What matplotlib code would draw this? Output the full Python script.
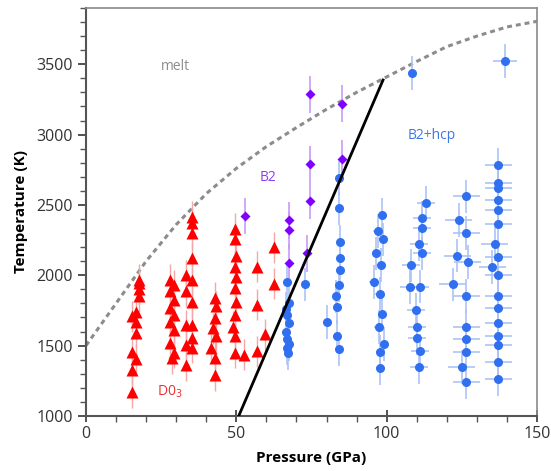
import matplotlib.pyplot as plt
from matplotlib.ticker import MultipleLocator

# D0_3 (red triangles)
red_P = [15.3, 15.3, 15.3, 15.3, 16.8, 16.8, 16.8, 16.8, 17.8, 17.8, 17.8, 17.8,
         28.0, 29.3, 28.0, 29.3, 28.0, 29.3, 28.0, 29.3, 28.0, 29.3, 28.5,
         33.2, 33.2, 33.2, 33.2, 33.2,
         35.4, 35.4, 35.4, 35.4, 35.4, 35.4, 35.4, 35.4, 35.4,
         42.8, 43.4, 43.0, 42.4, 43.4, 41.5, 43.0, 42.8,
         49.5, 49.5, 49.8, 49.5, 49.8, 49.5, 49.8, 49.5, 49.0, 49.5, 49.5,
         52.5, 57.0, 57.0, 57.0, 59.5, 62.5, 62.5]
red_T = [1170, 1330, 1455, 1710, 1405, 1590, 1665, 1740, 1850, 1900, 1945, 1970,
         1970, 1930, 1885, 1825, 1765, 1720, 1670, 1610, 1520, 1450, 1410,
         2000, 1885, 1645, 1505, 1360,
         2415, 2370, 2300, 2125, 1970, 1810, 1650, 1555, 1485,
         1840, 1780, 1695, 1625, 1565, 1485, 1415, 1290,
         2330, 2255, 2135, 2060, 1985, 1910, 1810, 1720, 1635, 1570, 1450,
         1435, 2060, 1790, 1460, 1580, 2200, 1940]

# B2 (purple diamonds)
pur_P = [53.0, 67.5, 67.5, 67.5, 73.5, 74.5, 74.5, 74.5, 85.0, 85.0]
pur_T = [2420, 2390, 2320, 2090, 2155, 2530, 2790, 3285, 2830, 3220]

# B2+hcp (blue circles)
blue_P = [67.0, 67.5, 66.5, 67.0, 67.5, 66.5, 67.0, 67.5, 66.8, 67.2,
          73.0,
          84.0, 84.0, 84.5, 84.5, 84.5, 84.0, 83.0, 83.5, 80.0, 83.5, 84.0,
          98.5, 97.0, 98.8, 96.6, 98.0, 95.7, 97.7, 98.6, 97.3, 99.0, 97.9, 97.9,
          113.0, 111.9, 111.9, 110.6, 111.7, 108.2, 107.6, 111.2, 109.6, 110.2, 110.2, 111.2, 110.7,
          126.5, 124.0, 126.5, 123.5, 127.0, 122.0, 126.5, 126.5, 126.5, 126.5, 125.0, 126.5,
          137.1, 137.1, 137.1, 137.1, 137.1, 137.1, 135.9, 137.1, 135.1, 137.1, 137.1, 137.1,
          137.1, 137.1, 137.1, 137.1, 137.1,
          108.4, 139.5]
blue_T = [1950, 1805, 1760, 1720, 1660, 1600, 1550, 1510, 1480, 1445,
          1935,
          2690, 2475, 2240, 2125, 2040, 1930, 1850, 1775, 1670, 1565, 1475,
          2430, 2315, 2255, 2155, 2075, 1955, 1870, 1725, 1630, 1510, 1455, 1340,
          2515, 2410, 2335, 2225, 2155, 2070, 1915, 1920, 1755, 1635, 1555, 1460, 1345,
          2560, 2395, 2300, 2140, 2095, 1935, 1855, 1635, 1545, 1455, 1350, 1240,
          2783, 2657, 2622, 2538, 2462, 2368, 2220, 2130, 2058, 2004, 1856, 1765,
          1663, 1571, 1508, 1381, 1262,
          3436, 3523]
blue_xerr = [0.8] * 10 + [0.8] + [1.0] * 11 + [1.5] * 12 + [3.0] * 13 + [4.5] * 12 + [4.5] * 17 + [0.5, 4.0]

# melting curve and D0_3 / B2+hcp boundary
melt_P = [0, 10, 20, 30, 40, 50, 60, 70, 80, 90, 100, 110, 120, 130, 140, 150]
melt_T = [1500, 1800, 2100, 2360, 2580, 2760, 2915, 3050, 3180, 3300, 3410, 3520, 3625, 3700, 3765, 3805]
bound_P = [50.8, 98.8]
bound_T = [1000, 3388]

plt.rcParams['font.family'] = 'Open Sans'
fig = plt.figure(figsize=(5.51, 4.71), dpi=100)
ax = fig.add_axes([0.156, 0.1168, 0.8186, 0.8663])

ax.plot(melt_P, melt_T, color='#8c8c8c', lw=2.2, ls=(0, (1.6, 1.3)), zorder=2)
ax.plot(bound_P, bound_T, color='black', lw=2, zorder=5)

ax.errorbar(red_P, red_T, yerr=110, fmt='none', ecolor='#f4a8a8', elinewidth=1, zorder=3)
ax.plot(red_P, red_T, '^', color='#ff0000', ms=8, mec='none', zorder=4)

ax.errorbar(pur_P, pur_T, yerr=130, fmt='none', ecolor='#c89bf5', elinewidth=1.2, zorder=3)
ax.plot(pur_P, pur_T, 'D', color='#7f00ff', ms=5, mec='none', zorder=4)

ax.errorbar(blue_P, blue_T, xerr=blue_xerr, yerr=120, fmt='none', ecolor='#adc3f5',
            elinewidth=1.2, zorder=3)
ax.plot(blue_P, blue_T, 'o', color='#2f6ff0', ms=6.5, mec='none', zorder=4)

ax.text(29.6, 3485, 'melt', color='#8c8c8c', fontsize=10, ha='center', va='center')
ax.text(60.5, 2695, 'B2', color='#8a3ff0', fontsize=10, ha='center', va='center')
ax.text(115, 2990, 'B2+hcp', color='#3d77e8', fontsize=10, ha='center', va='center')
ax.text(27.9, 1170, 'D0$_3$', color='#f03030', fontsize=10, ha='center', va='center')

ax.set_xlim(0, 150)
ax.set_ylim(1000, 3900)
ax.xaxis.set_major_locator(MultipleLocator(50))
ax.xaxis.set_minor_locator(MultipleLocator(10))
ax.yaxis.set_major_locator(MultipleLocator(500))
ax.yaxis.set_minor_locator(MultipleLocator(100))
ax.tick_params(axis='x', which='major', direction='inout', length=8, width=1.2, labelsize=11.5, colors='#333333')
ax.tick_params(axis='y', which='major', direction='out', length=6, width=1.2, labelsize=11.5, colors='#333333')
ax.tick_params(which='minor', direction='out', length=4, width=1, color='#555555')

for s in ['left', 'bottom']:
    ax.spines[s].set_color('#555555')
    ax.spines[s].set_linewidth(1.5)
for s in ['top', 'right']:
    ax.spines[s].set_color('#8a8a8a')
    ax.spines[s].set_linewidth(1.2)

ax.set_xlabel('Pressure (GPa)', fontsize=11, fontweight='bold', labelpad=6)
ax.set_ylabel('Temperature (K)', fontsize=11, fontweight='bold', labelpad=6)

plt.savefig('out.png', dpi=100)
